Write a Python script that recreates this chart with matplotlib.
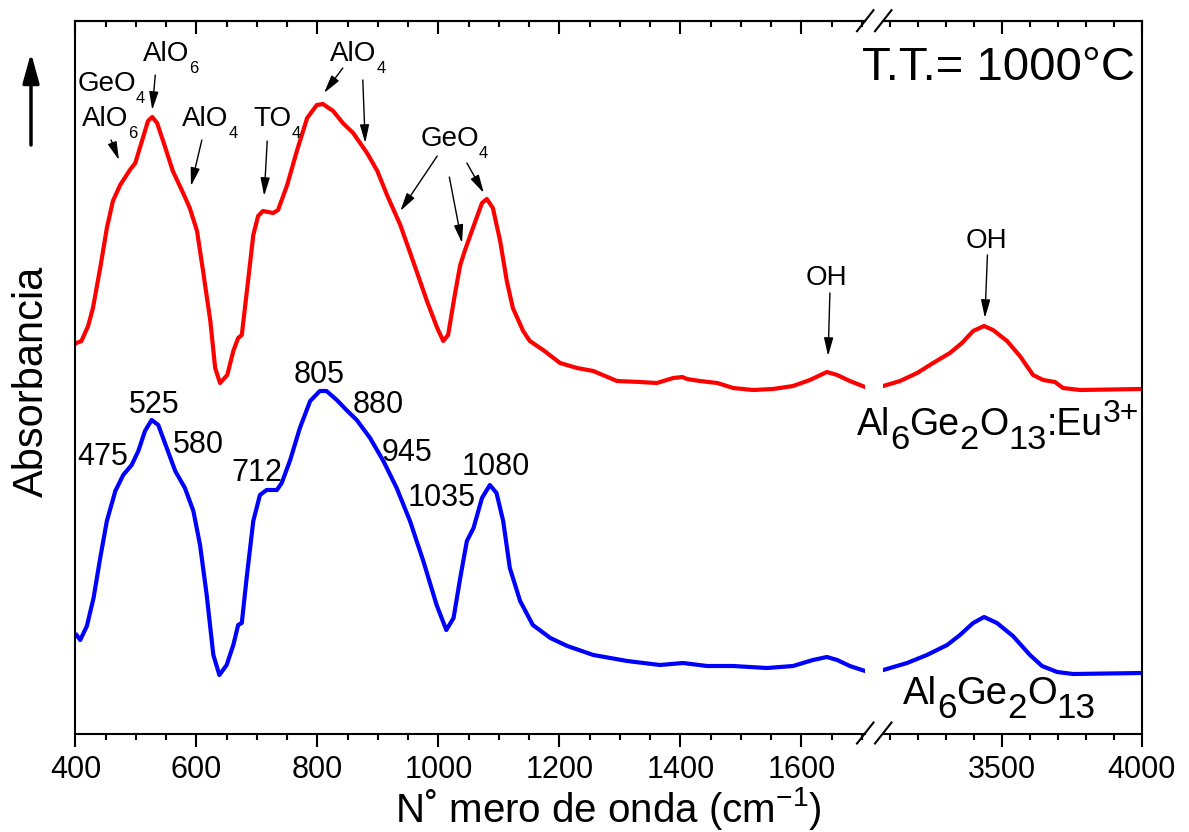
import matplotlib
matplotlib.use("Agg")
import matplotlib.pyplot as plt
from matplotlib.lines import Line2D
from matplotlib.patches import FancyArrowPatch
from matplotlib.ticker import MultipleLocator, FixedLocator, NullFormatter

plt.rcParams["font.family"] = ["Liberation Sans", "DejaVu Sans"]
plt.rcParams["mathtext.fontset"] = "custom"
plt.rcParams["mathtext.rm"] = "Liberation Sans"
plt.rcParams["mathtext.it"] = "Liberation Sans"

# Al6Ge2O13:Eu3+ (red), low and high wavenumber parts
wn_eu_lo = [402, 410, 421, 429, 441, 452, 462, 474, 490, 499, 510, 520, 527, 535, 545,
            561, 578, 589, 601, 611, 623, 631, 639, 651, 661, 669, 675, 684, 694, 702,
            710, 727, 735, 750, 766, 783, 799, 809, 826, 842, 859, 882, 899, 915, 937,
            958, 981, 998, 1008, 1016, 1027, 1036, 1044, 1057, 1072, 1080, 1090, 1102, 1113, 1123,
            1140, 1151, 1173, 1201, 1229, 1256, 1295, 1333, 1361, 1388, 1403, 1411, 1432, 1461, 1487,
            1520, 1553, 1586, 1614, 1642, 1659, 1680, 1705]
ab_eu_lo = [3.90, 3.92, 4.07, 4.25, 4.65, 5.05, 5.32, 5.48, 5.63, 5.70, 5.92, 6.12, 6.16, 6.10, 5.92,
            5.62, 5.40, 5.25, 5.02, 4.62, 4.12, 3.65, 3.50, 3.58, 3.82, 3.95, 3.98, 4.45, 4.98, 5.17,
            5.22, 5.20, 5.23, 5.48, 5.82, 6.15, 6.28, 6.29, 6.22, 6.10, 6.00, 5.80, 5.62, 5.38, 5.08,
            4.72, 4.32, 4.05, 3.92, 3.98, 4.38, 4.68, 4.83, 5.05, 5.30, 5.34, 5.25, 4.92, 4.52, 4.25,
            4.02, 3.92, 3.83, 3.70, 3.65, 3.62, 3.52, 3.51, 3.50, 3.55, 3.56, 3.54, 3.52, 3.50, 3.45,
            3.43, 3.44, 3.47, 3.53, 3.61, 3.58, 3.52, 3.46]
wn_eu_hi = [3077, 3137, 3198, 3255, 3315, 3358, 3398, 3437, 3469, 3519, 3565, 3612, 3648, 3690,
            3719, 3780, 4000]
ab_eu_hi = [3.47, 3.52, 3.60, 3.70, 3.80, 3.90, 4.02, 4.07, 4.03, 3.92, 3.77, 3.58, 3.53, 3.51,
            3.45, 3.43, 3.44]

# Al6Ge2O13 (blue)
wn_al_lo = [402, 408, 419, 430, 441, 452, 466, 479, 493, 504, 515, 526, 537, 551, 565,
            581, 595, 606, 617, 628, 638, 650, 661, 669, 675, 683, 694, 705, 716, 733,
            741, 755, 771, 788, 804, 815, 832, 848, 865, 887, 909, 931, 953, 975, 997,
            1013, 1025, 1036, 1047, 1058, 1072, 1085, 1096, 1107, 1118, 1135, 1156, 1185, 1213, 1256,
            1312, 1366, 1404, 1444, 1487, 1543, 1586, 1619, 1642, 1659, 1680, 1705]
ab_al_lo = [0.98, 0.93, 1.07, 1.35, 1.75, 2.12, 2.42, 2.58, 2.68, 2.82, 3.02, 3.13, 3.08, 2.85, 2.62,
            2.45, 2.22, 1.88, 1.38, 0.78, 0.58, 0.68, 0.88, 1.08, 1.10, 1.55, 2.12, 2.38, 2.43, 2.43,
            2.50, 2.73, 3.05, 3.32, 3.42, 3.42, 3.33, 3.23, 3.13, 2.95, 2.72, 2.45, 2.12, 1.72, 1.28,
            1.03, 1.15, 1.55, 1.92, 2.05, 2.35, 2.48, 2.40, 2.12, 1.65, 1.32, 1.08, 0.95, 0.87, 0.78,
            0.72, 0.68, 0.70, 0.67, 0.67, 0.65, 0.67, 0.73, 0.76, 0.73, 0.67, 0.62]
wn_al_hi = [3077, 3162, 3233, 3305, 3351, 3398, 3437, 3483, 3540, 3601, 3644, 3698, 3755, 4000]
ab_al_hi = [0.63, 0.70, 0.78, 0.88, 0.98, 1.10, 1.16, 1.10, 0.97, 0.78, 0.67, 0.61, 0.59, 0.60]

peaks = ["475", "525", "580", "712", "805", "880", "945", "1035", "1080"]

W, H = 1189, 832
fig = plt.figure(figsize=(W / 100, H / 100), dpi=100)
ax1 = fig.add_axes([75.4 / W, 98 / H, (865 - 75.4) / W, 713 / H])
ax2 = fig.add_axes([883 / W, 98 / H, (1141.7 - 883) / W, 713 / H])

for a in (ax1, ax2):
    a.set_ylim(-0.01, 7.12)
    a.set_yticks([])
    for s in a.spines.values():
        s.set_linewidth(1.5)
    a.tick_params(axis="x", which="major", direction="out", length=9, width=1.5,
                  labelsize=22, pad=6)
    a.tick_params(axis="x", which="minor", direction="out", length=4.5, width=1.5)
ax1.spines["right"].set_visible(False)
ax2.spines["left"].set_visible(False)

ax1.set_xlim(400, 1705)
ax1.xaxis.set_major_locator(FixedLocator([400, 600, 800, 1000, 1200, 1400, 1600]))
ax1.xaxis.set_minor_locator(MultipleLocator(50))
ax2.set_xlim(3076, 4000)
ax2.xaxis.set_major_locator(FixedLocator([3500, 4000]))
ax2.xaxis.set_minor_locator(MultipleLocator(100))

for a, maj, mnr in ((ax1, 200, 50), (ax2, 500, 100)):
    top = a.secondary_xaxis("top")
    top.xaxis.set_major_locator(MultipleLocator(maj))
    top.xaxis.set_minor_locator(MultipleLocator(mnr))
    top.xaxis.set_major_formatter(NullFormatter())
    top.tick_params(which="major", direction="in", length=9, width=1.5)
    top.tick_params(which="minor", direction="in", length=4.5, width=1.5)
    top.spines["top"].set_linewidth(1.5)

ax1.plot(wn_eu_lo, ab_eu_lo, color="#ff0000", lw=3, solid_joinstyle="round")
ax2.plot(wn_eu_hi, ab_eu_hi, color="#ff0000", lw=3, solid_joinstyle="round")
ax1.plot(wn_al_lo, ab_al_lo, color="#0000ff", lw=3, solid_joinstyle="round")
ax2.plot(wn_al_hi, ab_al_hi, color="#0000ff", lw=3, solid_joinstyle="round")

# axis break marks
for yb in (20.7, 733):
    for xb in (857, 875):
        fig.add_artist(Line2D([xb / W, (xb + 16.5) / W],
                              [1 - (yb + 10.5) / H, 1 - (yb - 10.5) / H],
                              transform=fig.transFigure, color="k", lw=1.5))

renderer = fig.canvas.get_renderer()


def chem(ax, x, y, parts, size):
    dx = 0
    for s, scale, dy in parts:
        t = ax.annotate(s, (x, y), xytext=(dx, dy), textcoords="offset pixels",
                        fontsize=size * scale, ha="left", va="baseline",
                        annotation_clip=False)
        dx += t.get_window_extent(renderer).width


def arrow(ax, tail, head):
    ax.annotate("", xy=head, xytext=tail, annotation_clip=False,
                arrowprops=dict(arrowstyle="-|>,head_length=0.55,head_width=0.14",
                                color="k", lw=1, shrinkA=0, shrinkB=0, mutation_scale=20))


def grp(name, sub):
    return [(name, 1, 0), (sub, 0.6, -12)]


# band assignments (red spectrum)
chem(ax1, 411, 6.07, grp("AlO", "6"), 20)
chem(ax1, 403, 6.42, grp("GeO", "4"), 20)
chem(ax1, 512, 6.72, grp("AlO", "6"), 20)
chem(ax1, 576, 6.07, grp("AlO", "4"), 20)
chem(ax1, 694, 6.07, grp("TO", "4"), 20)
chem(ax1, 821, 6.72, grp("AlO", "4"), 20)
chem(ax1, 970, 5.87, grp("GeO", "4"), 20)
arrow(ax1, (459, 5.93), (472, 5.73))
arrow(ax1, (532, 6.58), (527, 6.23))
arrow(ax1, (609, 5.93), (591, 5.47))
arrow(ax1, (717, 5.92), (712, 5.37))
arrow(ax1, (842, 6.65), (811, 6.40))
arrow(ax1, (875, 6.53), (879, 5.90))
arrow(ax1, (998, 5.77), (937, 5.22))
arrow(ax1, (1018, 5.56), (1039, 4.90))
arrow(ax1, (1047, 5.70), (1075, 5.40))

ax1.text(1642, 4.48, "OH", fontsize=20, ha="center", va="baseline")
arrow(ax1, (1647, 4.40), (1644, 3.77))
ax2.text(3445, 4.85, "OH", fontsize=20, ha="center", va="baseline")
arrow(ax2, (3449, 4.78), (3440, 4.15))

# peak positions (blue spectrum)
label_xy = [(445, 2.68), (530, 3.20), (603, 2.80), (700, 2.52), (803, 3.50),
            (900, 3.20), (948, 2.72), (1006, 2.27), (1095, 2.58)]
for lab, (lx, ly) in zip(peaks, label_xy):
    ax1.text(lx, ly, lab, fontsize=22, ha="center", va="baseline")

formula = [("Al", 1, 0), ("6", 0.92, -14), ("Ge", 1, 0), ("2", 0.92, -14),
           ("O", 1, 0), ("13", 0.92, -14)]
chem(ax2, 3076 + (857 - 883) / 0.28, 2.98,
     formula + [(":Eu", 1, 0), ("3+", 0.85, 13)], 27)
chem(ax2, 3076 + (903 - 883) / 0.28, 0.29, formula, 27.5)

fig.text(862 / W, 1 - 80 / H, "T.T.= 1000°C", fontsize=34, ha="left", va="baseline")

fig.text(608 / W, 1 - 822 / H, "N\u02da mero de onda (cm$^{-1}$)", fontsize=29,
         ha="center", va="baseline")
fig.text(32 / W, 1 - 381 / H, "Absorbancia", fontsize=30, rotation=90,
         ha="center", va="center")
fig.add_artist(FancyArrowPatch(
    (31 / W, 1 - 145 / H), (31 / W, 1 - 53 / H), transform=fig.transFigure,
    arrowstyle="-|>,head_length=0.9,head_width=0.25", mutation_scale=20,
    color="k", lw=2.5, shrinkA=0, shrinkB=0))

fig.savefig("out.png", dpi=100)
